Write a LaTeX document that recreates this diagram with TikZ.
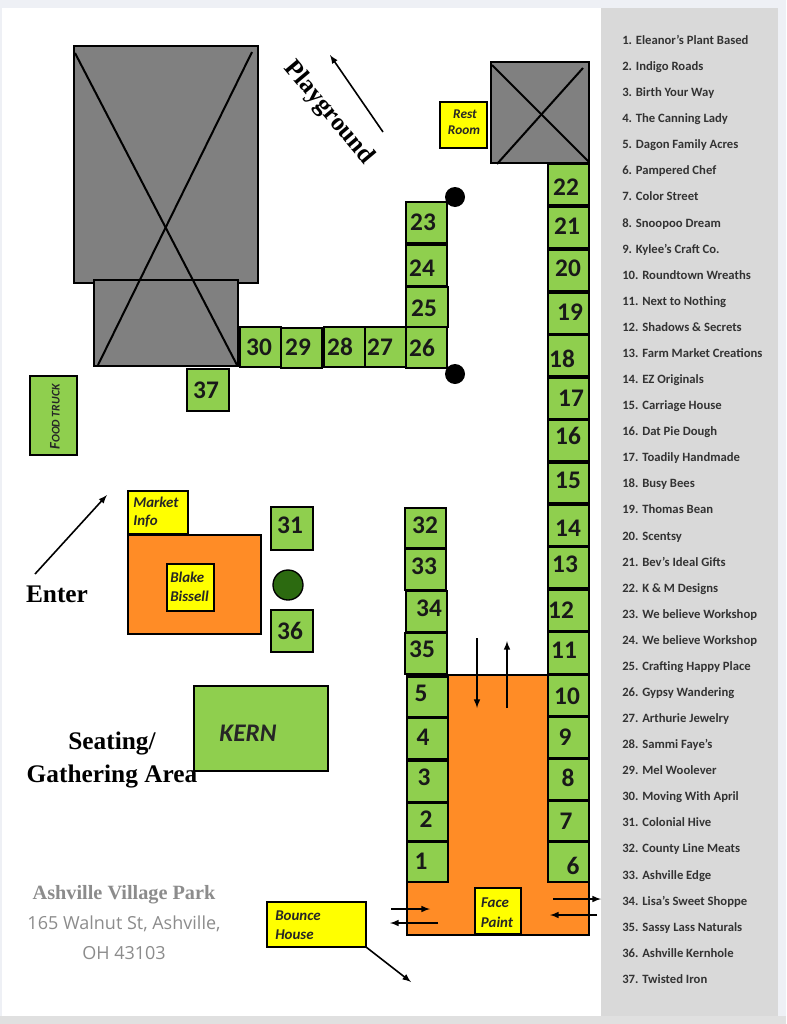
\documentclass[tikz,border=0pt]{standalone}
\usepackage{fontspec}
\setmainfont{Carlito}
\newfontfamily\serifbold{Liberation Serif}[Scale=1.0]
\newfontfamily\addrfont{Open Sans}
\usepackage{tikz}
\definecolor{stallgreen}{HTML}{8FCF4E}
\definecolor{tentorange}{HTML}{FF8C26}
\definecolor{signyellow}{HTML}{FFFF00}
\definecolor{shedgray}{HTML}{808080}
\definecolor{panelgray}{HTML}{D9D9D9}
\definecolor{treegreen}{HTML}{2C6A10}
\definecolor{addrgray}{HTML}{8C8C8C}
\definecolor{pagetint}{HTML}{EEF0F5}
\tikzset{
	stallbox/.style={draw=black, line width=1.6pt, fill=stallgreen},
	stallnum/.style={font=\fontsize{19}{20}\selectfont\bfseries, text=black!90, inner sep=0pt},
	shedbox/.style={draw=black, line width=1.6pt, fill=shedgray},
	signbox/.style={draw=black, line width=1.6pt, fill=signyellow},
	tentbox/.style={draw=black, line width=1.6pt, fill=tentorange},
	signtext/.style={font=\fontsize{11.2}{14}\selectfont\bfseries\itshape, text=black!85, inner sep=0pt},
	bigtext/.style={font=\fontsize{19}{20}\selectfont\serifbold\bfseries, text=black, inner sep=0pt},
	listtext/.style={font=\fontsize{9.5}{11}\selectfont\bfseries, text=black!80, anchor=base west, inner sep=0pt},
	walkarrow/.style={-latex, line width=1.2pt},
}
\def\stall#1(#2,#3)(#4,#5)(#6,#7){\draw[stallbox] (#2,#3) rectangle (#4,#5); \node[stallnum] (s#1) at (#6,#7) {#1};}

\begin{document}
\begin{tikzpicture}[x=0.75pt, y=-0.75pt]
		%%%%% PAGE %%%%%
		\useasboundingbox (0,0) rectangle (786,1024);
		\fill[pagetint] (0,0) rectangle (786,1024);
		\fill[black!12] (0,1016) rectangle (786,1024);
		\fill[white] (2,8) rectangle (778,1016);
		\fill[panelgray] (601,8) rectangle (778,1016);
		
		%%%%% SHEDS %%%%%
		\draw[shedbox] (74,46) rectangle (258,283);
		\draw[shedbox] (94,280) rectangle (238,366);
		\draw[line width=1.5pt] (75,53) -- (237,365);
		\draw[line width=1.5pt] (252,52) -- (98,365);
		\draw[shedbox] (491,62) rectangle (589,163);
		\draw[line width=1.5pt] (492,65) -- (589,162);
		\draw[line width=1.5pt] (583,68) -- (497,164);
		
		\draw[signbox] (440,102) rectangle (487,148);
		\node[signtext, font=\fontsize{10}{12}\selectfont\bfseries\itshape] (restA) at (465,114) {Rest};
		\node[signtext, font=\fontsize{10}{12}\selectfont\bfseries\itshape] (restB) at (464,130) {Room};
		
		\draw[walkarrow] (383,132) -- (330,55);
		\node[bigtext, rotate=-50] (playground) at (329,113) {Playground};
		
		%%%%% TENT %%%%%
		\draw[tentbox] (407,675) rectangle (589,935);
		\draw[signbox] (475,888) rectangle (521,934);
		\node[signtext] (faceA) at (495,903) {Face};
		\node[signtext] (faceB) at (497,922) {Paint};
		
		%%%%% STALLS, RIGHT COLUMN %%%%%
		\stall{22}(548,164)(589,205)(566,187)
		\stall{21}(548,207)(589,248)(567,226)
		\stall{20}(548,250)(589,291)(568,268)
		\stall{19}(548,293)(589,334)(570,312)
		\stall{18}(548,335)(589,376)(562,359)
		\stall{17}(548,378)(589,419)(571,398)
		\stall{16}(548,420)(589,461)(568,436)
		\stall{15}(548,463)(589,503)(568,480)
		\stall{14}(548,505)(589,546)(568,528)
		\stall{13}(548,547)(589,588)(565,564)
		\stall{12}(548,590)(589,631)(561,610)
		\stall{11}(548,632)(589,674)(564,650)
		\stall{10}(548,675)(589,716)(567,696)
		\stall{9}(548,717)(589,758)(565,737)
		\stall{8}(548,759)(589,800)(568,778)
		\stall{7}(548,801)(589,841)(566,821)
		\stall{6}(548,842)(589,882)(573,866)
		
		%%%%% STALLS, LEFT COLUMN %%%%%
		\stall{32}(405,508)(446,548)(425,525)
		\stall{33}(405,549)(446,590)(424,566)
		\stall{34}(406,591)(447,632)(429,608)
		\stall{35}(405,633)(447,674)(422,649)
		\stall{5}(407,677)(448,717)(421,693)
		\stall{4}(407,718)(448,759)(423,737)
		\stall{3}(407,761)(448,802)(424,777)
		\stall{2}(407,803)(448,841)(426,819)
		\stall{1}(407,842)(448,882)(421,861)
		
		%%%%% STALLS, TOP ROW %%%%%
		\stall{30}(240,327)(281,367)(259,347)
		\stall{29}(281,328)(322,368)(298,347)
		\stall{28}(324,327)(365,367)(340,347)
		\stall{27}(365,327)(406,367)(380,347)
		\stall{26}(406,327)(447,368)(422,348)
		\stall{25}(406,287)(448,327)(424,308)
		\stall{24}(406,245)(447,286)(422,268)
		\stall{23}(406,202)(447,243)(423,222)
		\stall{37}(187,369)(229,411)(206,390)
		\stall{31}(271,507)(313,550)(290,525)
		\stall{36}(271,610)(313,652)(290,631)
		
		\fill[black] (455,197) circle (10);
		\fill[black] (455,374) circle (10);
		
		%%%%% ARROWS %%%%%
		\draw[walkarrow] (477,638) -- (477,708);
		\draw[walkarrow] (507,708) -- (507,641);
		\draw[walkarrow] (391,909) -- (430,909);
		\draw[walkarrow] (438,923) -- (390,923);
		\draw[walkarrow] (553,899) -- (601,899);
		\draw[walkarrow] (597,915) -- (550,915);
		\draw[walkarrow] (35,574) -- (107,495);
		\draw[walkarrow] (366,947) -- (411,982);
		
		%%%%% LEFT SIDE %%%%%
		\draw[stallbox] (30,376) rectangle (77,455);
		\node[signtext, rotate=90, font=\fontsize{11}{12}\selectfont\itshape\bfseries] (food) at (55,417) {F\fontsize{8.8}{12}\selectfont OOD TRUCK};
		
		\draw[signbox] (128,491) rectangle (188,534);
		\node[signtext, align=left, anchor=west] (market) at (133,512) {Market\\Info};
		\draw[tentbox] (128,535) rectangle (261,634);
		\draw[signbox] (167,564) rectangle (214,611);
		\node[signtext, align=left, anchor=west] (blake) at (170,587) {Blake\\Bissell};
		\draw[line width=1pt, fill=treegreen] (288,585) circle (15);
		
		\draw[stallbox] (194,686) rectangle (328,771);
		\node[font=\fontsize{19}{20}\selectfont\bfseries\itshape, text=black!85, inner sep=0pt] (kern) at (248,733) {KERN};
		
		\draw[signbox] (267,902) rectangle (366,947);
		\node[signtext, align=left, anchor=west] (bounce) at (275,925) {Bounce\\House};
		
		\node[bigtext] (enter) at (57,594) {Enter};
		\node[bigtext] (seating) at (112,743) {Seating/};
		\node[bigtext] (gathering) at (112,776) {Gathering Area};
		
		\node[font=\fontsize{15.2}{16}\selectfont\serifbold\bfseries, text=addrgray, inner sep=0pt] (park) at (124,895) {Ashville Village Park};
		\node[font=\fontsize{13.5}{16}\selectfont\addrfont, text=addrgray, inner sep=0pt] (street) at (124,924) {165 Walnut St, Ashville,};
		\node[font=\fontsize{13.5}{16}\selectfont\addrfont, text=addrgray, inner sep=0pt] (city) at (124,953) {OH 43103};
		
		%%%%% LIST %%%%%
		\foreach \i/\vendor in {1/Eleanor’s Plant Based, 2/Indigo Roads, 3/Birth Your Way, 4/The Canning Lady,
			5/Dagon Family Acres, 6/Pampered Chef, 7/Color Street, 8/Snoopoo Dream, 9/Kylee’s Craft Co.,
			10/Roundtown Wreaths, 11/Next to Nothing, 12/Shadows \& Secrets, 13/Farm Market Creations,
			14/EZ Originals, 15/Carriage House, 16/Dat Pie Dough, 17/Toadily Handmade, 18/Busy Bees,
			19/Thomas Bean, 20/Scentsy, 21/Bev’s Ideal Gifts, 22/K \& M Designs, 23/We believe Workshop,
			24/We believe Workshop, 25/Crafting Happy Place, 26/Gypsy Wandering, 27/Arthurie Jewelry,
			28/Sammi Faye’s, 29/Mel Woolever, 30/Moving With April, 31/Colonial Hive, 32/County Line Meats,
			33/Ashville Edge, 34/Lisa’s Sweet Shoppe, 35/Sassy Lass Naturals, 36/Ashville Kernhole, 37/Twisted Iron}
		{
			\node[listtext] (item\i) at (622, {44.5+(\i-1)*26.08}) {\i. \vendor};
		}
		%%%%% END %%%%%
	\end{tikzpicture}
\end{document}
